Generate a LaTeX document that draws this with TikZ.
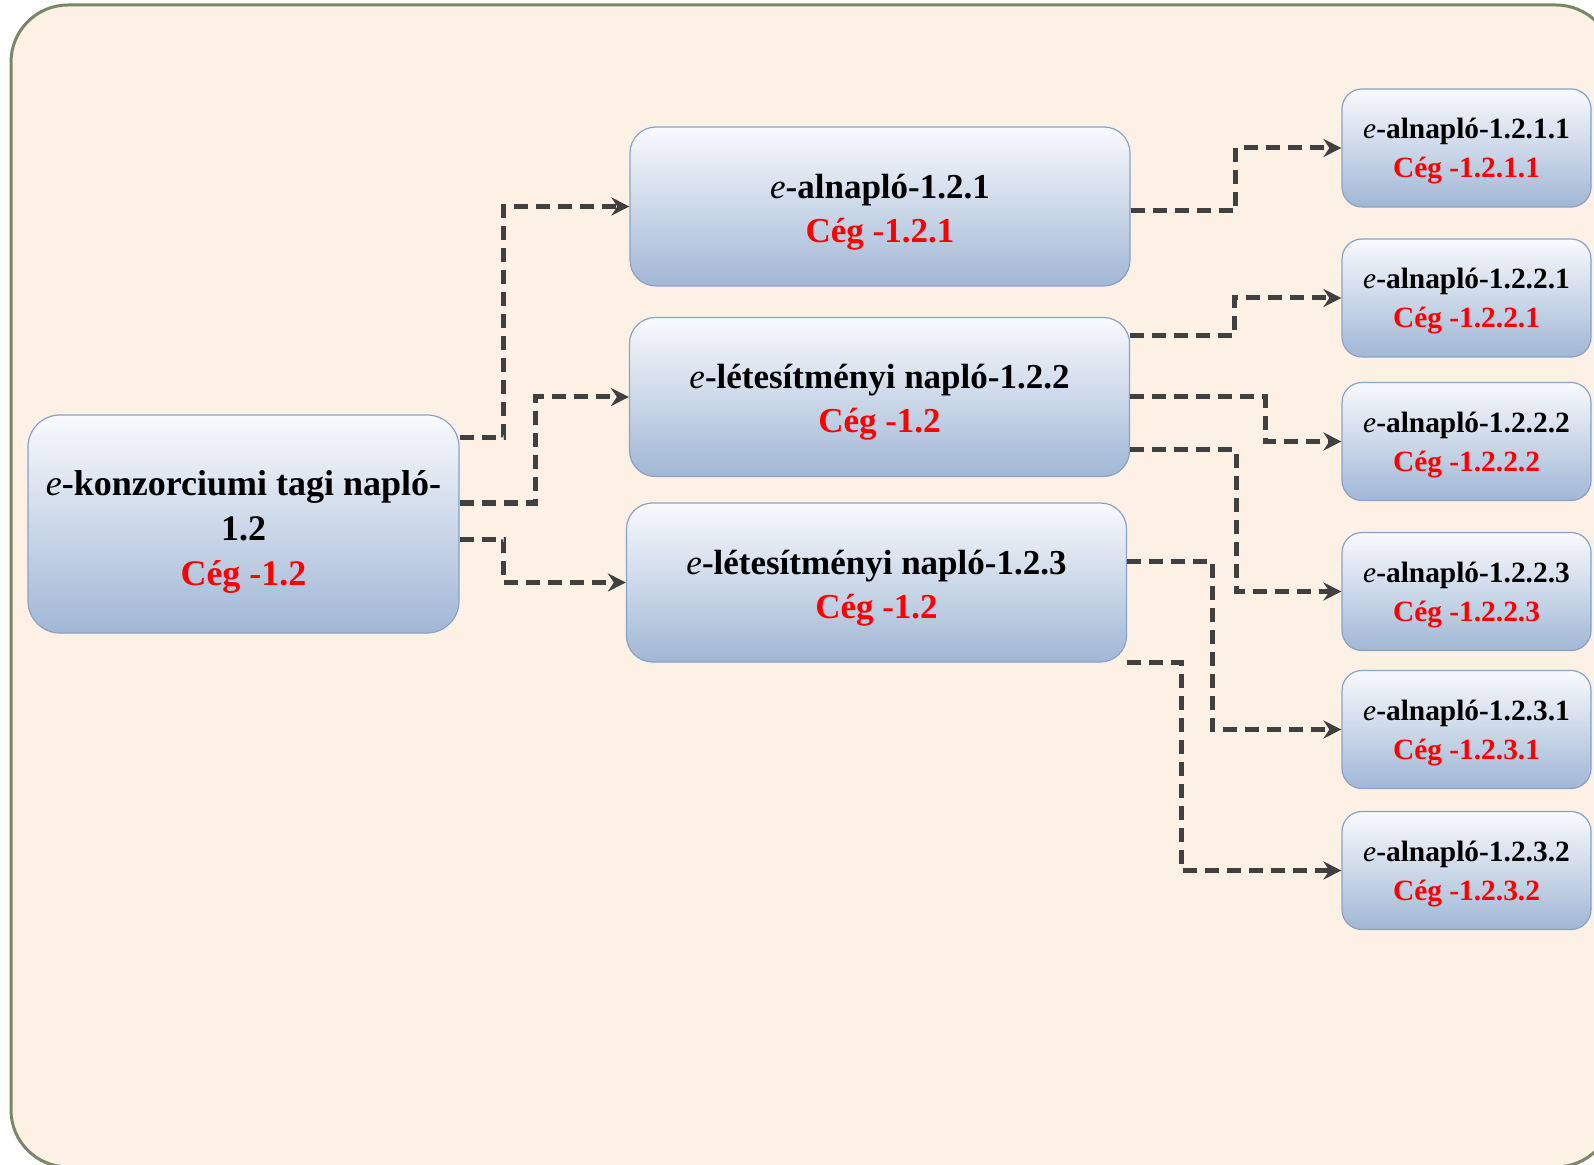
\documentclass[tikz,border=0pt]{standalone}
\usepackage{fontspec}
\setmainfont{Liberation Serif}
\usetikzlibrary{arrows.meta}
\definecolor{bgcol}{HTML}{FDF0E4}
\definecolor{framecol}{HTML}{7A8766}
\definecolor{boxtop}{HTML}{F8FAFD}
\definecolor{boxbot}{HTML}{A1B7D5}
\definecolor{boxline}{HTML}{88A2C9}
\definecolor{conncol}{HTML}{404040}
\definecolor{redtxt}{HTML}{FF0000}
\newcommand\ee{{\mdseries\itshape e}}
\newcommand\tstrutA{\rule{0pt}{20pt}}
\newcommand\tstrutB{\rule{0pt}{17.5pt}}
\newcommand\tstrutC{\rule{0pt}{13.5pt}}
\tikzset{
  box/.style={draw=boxline, line width=0.6pt, top color=boxtop, bottom color=boxbot,
    align=center, inner sep=0pt, font=\bfseries},
  bigbox/.style={box, minimum width=215.5pt, minimum height=109pt, rounded corners=16pt,
    font=\bfseries\fontsize{18}{22.5}\selectfont},
  midbox/.style={box, minimum width=250pt, minimum height=79.5pt, rounded corners=13pt,
    font=\bfseries\fontsize{17.5}{22}\selectfont},
  smallbox/.style={box, minimum width=124.5pt, minimum height=59pt, rounded corners=10pt,
    font=\bfseries\fontsize{14.7}{19.5}\selectfont},
  conn/.style={draw=conncol, line width=2.5pt, dash pattern=on 7pt off 4pt,
    -{Stealth[length=9pt,width=9pt,inset=3pt]}},
}
\begin{document}
\begin{tikzpicture}[x=0.5pt,y=-0.5pt]
\useasboundingbox (0,0) rectangle (1594,1165);
\clip (0,0) rectangle (1594,1165);
\draw[framecol, line width=1.5pt, fill=bgcol, rounded corners=28.5pt] (11,5) rectangle (1613,1167);

\node[bigbox] (A) at (243.5,524) {\tstrutA\ee-konzorciumi tagi napló-\\1.2\\\textcolor{redtxt}{Cég -1.2}};

\node[midbox] (B1) at (880,206.5) {\tstrutB\ee-alnapló-1.2.1\\\textcolor{redtxt}{Cég -1.2.1}};
\node[midbox] (B2) at (879.5,397) {\tstrutB\ee-létesítményi napló-1.2.2\\\textcolor{redtxt}{Cég -1.2}};
\node[midbox] (B3) at (876.5,582.5) {\tstrutB\ee-létesítményi napló-1.2.3\\\textcolor{redtxt}{Cég -1.2}};

\node[smallbox] (C1) at (1466.5,148) {\tstrutC\ee-alnapló-1.2.1.1\\\textcolor{redtxt}{Cég -1.2.1.1}};
\node[smallbox] (C2) at (1466.5,298) {\tstrutC\ee-alnapló-1.2.2.1\\\textcolor{redtxt}{Cég -1.2.2.1}};
\node[smallbox] (C3) at (1466.5,441.5) {\tstrutC\ee-alnapló-1.2.2.2\\\textcolor{redtxt}{Cég -1.2.2.2}};
\node[smallbox] (C4) at (1466.5,591.5) {\tstrutC\ee-alnapló-1.2.2.3\\\textcolor{redtxt}{Cég -1.2.2.3}};
\node[smallbox] (C5) at (1466.5,729.5) {\tstrutC\ee-alnapló-1.2.3.1\\\textcolor{redtxt}{Cég -1.2.3.1}};
\node[smallbox] (C6) at (1466.5,870.5) {\tstrutC\ee-alnapló-1.2.3.2\\\textcolor{redtxt}{Cég -1.2.3.2}};

\draw[conn] (A.east |- 0,438) -- ++(44,0) |- (B1.west);
\draw[conn] (A.east |- 0,503) -- ++(76,0) |- (B2.west);
\draw[conn] (A.east |- 0,539) -- ++(44,0) |- (B3.west);

\draw[conn] (B1.east |- 0,211) -- ++(105,0) |- (C1.west);
\draw[conn] (B2.east |- 0,336) -- ++(104,0) |- (C2.west);
\draw[conn] (B2.east) -- ++(135,0) |- (C3.west);
\draw[conn] (B2.east |- 0,450) -- ++(106,0) |- (C4.west);
\draw[conn] (B3.east |- 0,561) -- ++(85,0) |- (C5.west);
\draw[conn] (B3.east |- 0,662) -- ++(54,0) |- (C6.west);
\end{tikzpicture}
\end{document}
